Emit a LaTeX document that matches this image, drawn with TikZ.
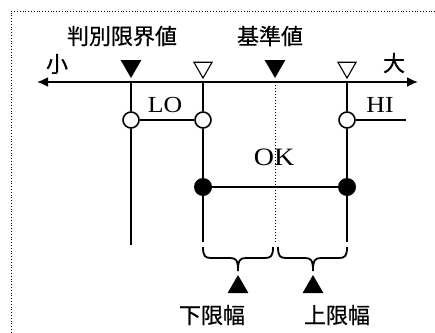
\documentclass[tikz,border=0pt]{standalone}
\usepackage{fontspec}
\setmainfont{Liberation Serif}
\newfontfamily\jpfont[FakeBold=0.6]{Noto Sans CJK JP}
\newfontfamily\latinfont[FakeStretch=1.12]{Liberation Serif}
\usetikzlibrary{arrows.meta,shapes.geometric}
\tikzset{
	wire/.style={line width=1.8pt},
	opendot/.style={circle,draw,fill=white,line width=1.6pt,minimum size=16pt,inner sep=0pt},
	fulldot/.style={circle,fill,minimum size=18pt,inner sep=0pt},
	downmark/.style={regular polygon,regular polygon sides=3,shape border rotate=180,inner sep=0pt},
	upmark/.style={regular polygon,regular polygon sides=3,fill,minimum size=24pt,inner sep=0pt},
	jp/.style={font=\jpfont\fontsize{22}{24}\selectfont,inner sep=0pt},
	en/.style={font=\latinfont\fontsize{23}{24}\selectfont,inner sep=0pt}
}

\begin{document}
\begin{tikzpicture}[x=1pt,y=-1pt]
	\useasboundingbox (0,0) rectangle (435,332);
	\draw[dotted,line width=0.8pt] (435,11) -- (11,11) -- (11,332);
	\coordinate (small) at (37,82);
	\coordinate (large) at (418,82);
	\draw[wire,{Latex[length=11pt,width=10pt]}-{Latex[length=11pt,width=10pt]}] (small) -- (large);
	\foreach \n/\x in {1/131,2/203,3/275,4/347}{
		\coordinate (a\n) at (\x,82);}
	\node[downmark,fill,minimum size=24pt] (m1) at (131,66) {};
	\node[downmark,draw,line width=1.1pt,minimum size=21pt] (m2) at (203,67.5) {};
	\node[downmark,fill,minimum size=24pt] (m3) at (275,66) {};
	\node[downmark,draw,line width=1.1pt,minimum size=21pt] (m4) at (347,67.5) {};
	\node[jp] (limit) at (122,36) {判別限界値};
	\node[jp] (ref) at (270,36) {基準値};
	\node[jp] (lo end) at (57,64) {小};
	\node[jp] (hi end) at (394,63) {大};
	\node[opendot] (c1) at (131,120) {};
	\node[opendot] (c2) at (203,120) {};
	\node[opendot] (c4) at (347,120) {};
	\node[fulldot] (f2) at (203,187) {};
	\node[fulldot] (f4) at (347,187) {};
	\coordinate (e1) at (131,245);
	\coordinate (e2) at (203,242);
	\coordinate (e3) at (275,243);
	\coordinate (e4) at (347,242);
	\coordinate (hi out) at (406,120);
	\draw[wire] (a1) -- (c1) -- (e1);
	\draw[wire] (a2) -- (c2) -- (f2) -- (e2);
	\draw[wire] (a4) -- (c4) -- (f4) -- (e4);
	\draw[wire] (c1) -- (c2);
	\draw[wire] (c4) -- (hi out);
	\draw[wire] (f2) -- (f4);
	\node[en] (lo) at (165,105) {LO};
	\node[en] (hi) at (380,105) {HI};
	\node[en,font=\latinfont\fontsize{25}{26}\selectfont] (ok) at (274,157.5) {OK};
	\draw[dotted,line width=1pt] (a3) -- (e3);
	\foreach \l/\m/\r in {203/238/273,278/313/347}{
		\draw[wire] (\l,247) .. controls (\l,256) and ({\l+2},258) .. ({\l+8},258)
			-- ({\m-8},258) .. controls ({\m-2},258) and (\m,260) .. (\m,271)
			.. controls (\m,260) and ({\m+2},258) .. ({\m+8},258)
			-- ({\r-8},258) .. controls ({\r-2},258) and (\r,256) .. (\r,247);}
	\node[upmark] (t1) at (238,287) {};
	\node[upmark] (t2) at (313,287) {};
	\node[jp] (lower) at (212,315) {下限幅};
	\node[jp] (upper) at (337,315) {上限幅};
\end{tikzpicture}
\end{document}
